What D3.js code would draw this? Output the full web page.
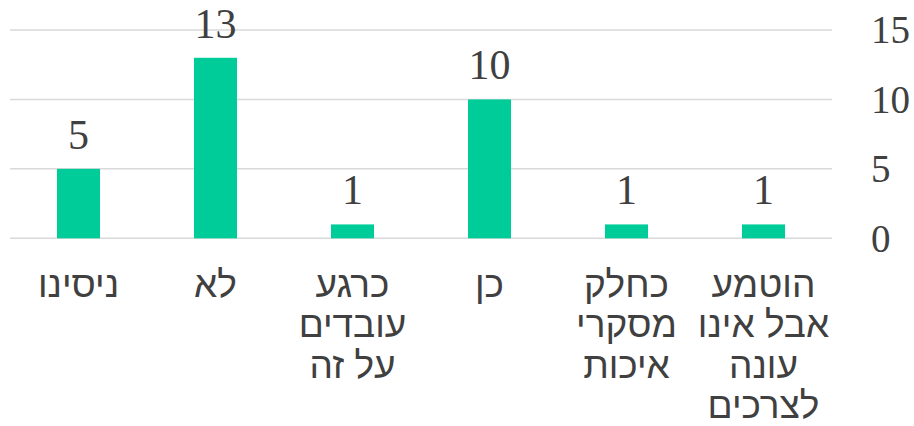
<!DOCTYPE html>
<html>
<head>
<meta charset="utf-8">
<script src="https://cdn.jsdelivr.net/npm/d3@7"></script>
<style>
  body { margin: 0; background: #fff; }
  text { font-family: "Liberation Serif", "Times New Roman", serif; fill: #404040; }
  text.cat { font-family: "Liberation Sans", Arial, sans-serif; }
</style>
</head>
<body>
<svg width="914" height="426"></svg>
<script>
// categories in sheet order (right to left on screen, RTL chart)
var categories = ["הוטמע אבל אינו עונה לצרכים", "כחלק מסקרי איכות", "כן", "כרגע עובדים על זה", "לא", "ניסינו"];
var values = [1, 1, 10, 1, 13, 5];
var yTicks = [0, 5, 10, 15];

var svg = d3.select("svg");

var plot = { left: 10, right: 832, top: 30, bottom: 238.3 };

var x = d3.scaleBand()
  .domain(categories)
  .range([plot.right, plot.left])
  .paddingInner(0.686)
  .paddingOuter(0.343);

var y = d3.scaleLinear()
  .domain([0, 15])
  .range([plot.bottom, plot.top]);

// gridlines
svg.append("g").selectAll("line")
  .data(yTicks)
  .enter().append("line")
  .attr("x1", plot.left).attr("x2", plot.right)
  .attr("y1", function (d) { return y(d) }).attr("y2", function (d) { return y(d) })
  .attr("stroke", "#d9d9d9")
  .attr("stroke-width", 1.5);

// y axis labels on the right
svg.append("g").selectAll("text")
  .data(yTicks)
  .enter().append("text")
  .attr("x", 871)
  .attr("y", function (d) { return y(d) })
  .attr("dy", "0.34em")
  .attr("font-size", 39)
  .text(function (d) { return d });

// bars
svg.append("g").selectAll("rect")
  .data(values)
  .enter().append("rect")
  .attr("x", function (d, i) { return x(categories[i]) })
  .attr("width", x.bandwidth())
  .attr("y", function (d) { return y(d) })
  .attr("height", function (d) { return y(0) - y(d) })
  .attr("fill", "#00cc99");

// data labels
svg.append("g").selectAll("text")
  .data(values)
  .enter().append("text")
  .attr("x", function (d, i) { return x(categories[i]) + x.bandwidth() / 2 })
  .attr("y", function (d) { return y(d) - 20 })
  .attr("text-anchor", "middle")
  .attr("font-size", 42)
  .text(function (d) { return d });

// category labels, wrapped to the band width
var labels = svg.append("g").selectAll("text")
  .data(categories)
  .enter().append("text")
  .attr("class", "cat")
  .attr("x", function (d) { return x(d) + x.bandwidth() / 2 })
  .attr("y", 296.5)
  .attr("text-anchor", "middle")
  .attr("font-size", 37);

labels.each(function (d) {
  var el = d3.select(this);
  var words = d.split(" ");
  var lines = [];
  var line = [];
  var probe = el.append("tspan");
  words.forEach(function (w) {
    var test = line.concat([w]).join(" ");
    probe.text(test);
    if (line.length && probe.node().getComputedTextLength() > 134) {
      lines.push(line.join(" "));
      line = [w];
    } else {
      line.push(w);
    }
  });
  lines.push(line.join(" "));
  probe.remove();
  lines.forEach(function (l, i) {
    el.append("tspan")
      .attr("x", el.attr("x"))
      .attr("dy", i === 0 ? 0 : 40.5)
      .text(l);
  });
});
</script>
</body>
</html>
